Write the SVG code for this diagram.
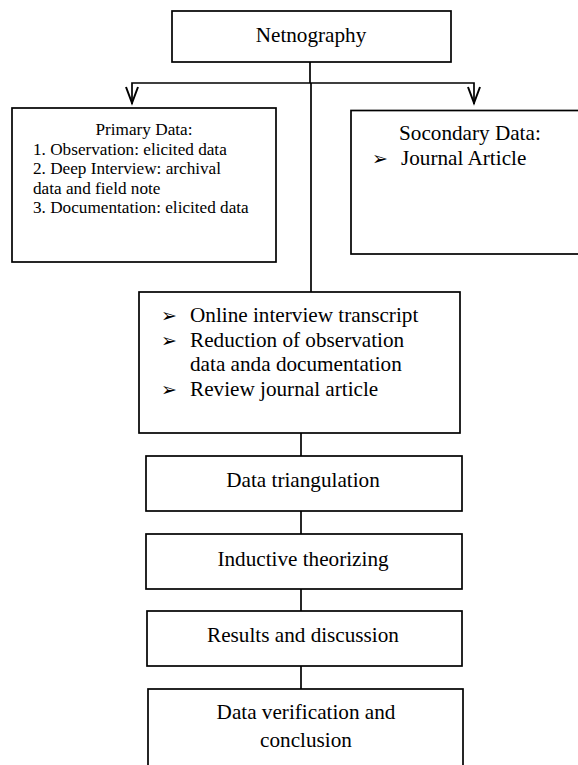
<svg xmlns="http://www.w3.org/2000/svg" width="578" height="765" viewBox="0 0 578 765">
<style>
.box{fill:#fff;stroke:#000;stroke-width:1.7}
.ln{fill:none;stroke:#000;stroke-width:1.7}
text{fill:#000}
.t{font-size:21.2px}
.s{font-size:17.2px}
.b{font-size:19px}
.c{text-anchor:middle}
</style>
<rect width="578" height="765" fill="#fff"/>
<g id="connectors">
<path class="ln" d="M310,62 V83 H132 V104"/>
<polyline points="126,87 132,103 138,87" fill="none" stroke="#000" stroke-width="2"/>
<path class="ln" d="M310,83 H474 V104"/>
<polyline points="468,87 474,103 480,87" fill="none" stroke="#000" stroke-width="2"/>
<path class="ln" d="M311,83 V292"/>
<path class="ln" d="M301,433 V456"/>
<path class="ln" d="M301,511 V534"/>
<path class="ln" d="M301,589 V611"/>
<path class="ln" d="M301,666 V689"/>
</g>
<g font-family="Liberation Serif, Tinos, Times New Roman, serif">
<g id="netnography">
<rect class="box" x="172" y="11" width="279" height="51"/>
<text class="t c" x="311" y="42">Netnography</text>
</g>
<g id="primary">
<rect class="box" x="12" y="108" width="264" height="154"/>
<text class="s c" x="144" y="135">Primary Data:</text>
<text class="s" x="33" y="154.5">1. Observation: elicited data</text>
<text class="s" x="33" y="174">2. Deep Interview: archival</text>
<text class="s" x="33" y="193.5">data and field note</text>
<text class="s" x="33" y="213">3. Documentation: elicited data</text>
</g>
<g id="secondary">
<rect class="box" x="351" y="110.5" width="250" height="143.5"/>
<text class="t" x="399" y="140">Socondary Data:</text>
<text class="b" x="372" y="165" font-family="DejaVu Sans, sans-serif">➢</text>
<text class="t" x="401" y="165">Journal Article</text>
</g>
<g id="processing">
<rect class="box" x="139" y="292" width="321" height="141"/>
<text class="b" x="161" y="322" font-family="DejaVu Sans, sans-serif">➢</text>
<text class="t" x="190" y="322">Online interview transcript</text>
<text class="b" x="161" y="347" font-family="DejaVu Sans, sans-serif">➢</text>
<text class="t" x="190" y="347">Reduction of observation</text>
<text class="t" x="190" y="371">data anda documentation</text>
<text class="b" x="161" y="396" font-family="DejaVu Sans, sans-serif">➢</text>
<text class="t" x="190" y="396">Review journal article</text>
</g>
<g id="triangulation">
<rect class="box" x="146" y="456" width="316" height="55"/>
<text class="t c" x="303" y="487">Data triangulation</text>
</g>
<g id="inductive">
<rect class="box" x="146" y="534" width="316" height="55"/>
<text class="t c" x="303" y="566">Inductive theorizing</text>
</g>
<g id="results">
<rect class="box" x="147" y="611" width="315" height="55"/>
<text class="t c" x="303" y="642">Results and discussion</text>
</g>
<g id="verification">
<rect class="box" x="148" y="689" width="315" height="90"/>
<text class="t c" x="306" y="719">Data verification and</text>
<text class="t c" x="306" y="747">conclusion</text>
</g>
</g>
</svg>
